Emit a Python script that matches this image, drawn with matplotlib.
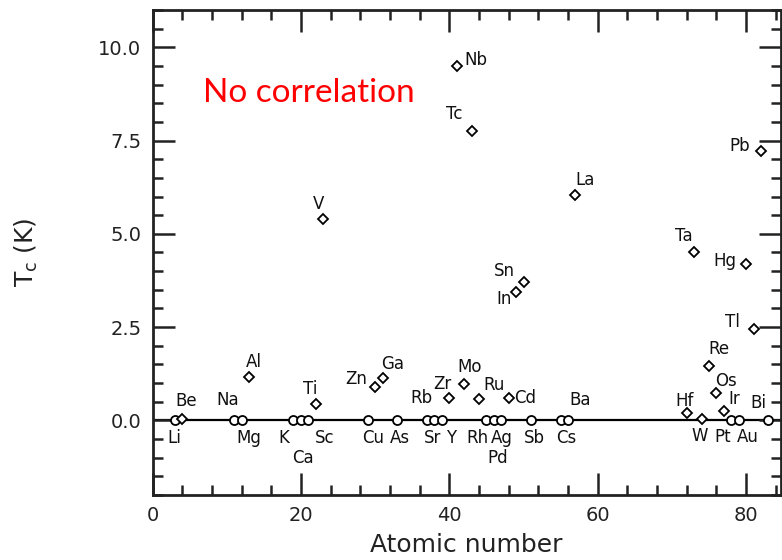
import matplotlib
matplotlib.use("Agg")
import matplotlib.pyplot as plt
from matplotlib.ticker import MultipleLocator, FixedLocator

# Superconducting elements (diamonds): symbol, atomic number, Tc (K)
sc_symbols = ["Be", "Al", "Ti", "V", "Zn", "Ga", "Zr", "Nb", "Mo", "Tc", "Ru", "Cd",
              "In", "Sn", "La", "Hf", "Ta", "W", "Re", "Os", "Ir", "Hg", "Tl", "Pb"]
sc_z = [4, 13, 22, 23, 30, 31, 40, 41, 42, 43, 44, 48,
        49, 50, 57, 72, 73, 74, 75, 76, 77, 80, 81, 82]
sc_tc = [0.03, 1.17, 0.45, 5.39, 0.9, 1.14, 0.6, 9.5, 0.98, 7.75, 0.56, 0.6,
         3.44, 3.7, 6.03, 0.2, 4.52, 0.05, 1.45, 0.73, 0.24, 4.19, 2.45, 7.22]

# Non-superconducting elements (circles on Tc = 0)
ns_symbols = ["Li", "Na", "Mg", "K", "Ca", "Sc", "Cu", "As", "Rb", "Sr", "Y",
              "Rh", "Pd", "Ag", "Sb", "Cs", "Ba", "Pt", "Au", "Bi"]
ns_z = [3, 11, 12, 19, 20, 21, 29, 33, 37, 38, 39,
        45, 46, 47, 51, 55, 56, 78, 79, 83]
ns_tc = [0] * len(ns_z)

x_ticks = [0, 20, 40, 60, 80]
y_ticks = [0.0, 2.5, 5.0, 7.5, 10.0]

# label offsets in pixels (dx, dy)
offsets = {
    "Li": (0, -18), "Be": (4, 18), "Na": (-6, 20), "Mg": (7, -18), "Al": (5, 15),
    "K": (-10, -18), "Ca": (2, -38), "Sc": (16, -18), "Ti": (-6, 15), "V": (-5, 15),
    "Cu": (5, -18), "Zn": (-19, 8), "Ga": (10, 14), "As": (3, -18), "Rb": (-6, 22),
    "Sr": (-2, -18), "Y": (9, -18), "Zr": (-7, 14), "Nb": (19, 6), "Mo": (5, 17),
    "Tc": (-17, 17), "Ru": (15, 14), "Rh": (-9, -18), "Pd": (4, -38), "Ag": (1, -18),
    "Cd": (16, 0), "In": (-12, -7), "Sn": (-19, 11), "Sb": (3, -18), "Cs": (6, -18),
    "Ba": (12, 20), "La": (10, 15), "Hf": (-2, 12), "Ta": (-10, 16), "W": (-2, -17),
    "Re": (10, 17), "Os": (10, 12), "Ir": (10, 12), "Pt": (-9, -17), "Au": (9, -17),
    "Hg": (-21, 3), "Tl": (-21, 7), "Pb": (-21, 5), "Bi": (-10, 17),
}

W, H = 782, 560
fig = plt.figure(figsize=(W / 100, H / 100), dpi=100)
ax = fig.add_axes([152.5 / W, 1 - 495 / H, (781 - 152.5) / W, (495 - 10) / H])
ax.set_xlim(0, 84.7)
ax.set_ylim(-2, 11)

ax.axhline(0, color="black", lw=1.6, zorder=1)
ax.plot(ns_z, ns_tc, linestyle="none", marker="o", ms=6.5, mfc="white",
        mec="black", mew=1.3, zorder=3)
ax.plot(sc_z, sc_tc, linestyle="none", marker="D", ms=5, mfc="white",
        mec="black", mew=1.3, zorder=4)

for s, z, t in list(zip(sc_symbols, sc_z, sc_tc)) + list(zip(ns_symbols, ns_z, ns_tc)):
    dx, dy = offsets[s]
    ax.annotate(s, (z, t), xytext=(dx, dy), textcoords="offset pixels",
                ha="center", va="center", fontsize=12, color="#111111")

ax.xaxis.set_major_locator(FixedLocator(x_ticks))
ax.xaxis.set_minor_locator(MultipleLocator(4))
ax.yaxis.set_major_locator(FixedLocator(y_ticks))
ax.yaxis.set_minor_locator(MultipleLocator(0.5))
ax.set_xticklabels([str(v) for v in x_ticks])
ax.set_yticklabels([f"{v:.1f}" for v in y_ticks])
ax.tick_params(which="both", direction="in", top=True, right=True, width=1.8,
               color="#222222")
ax.tick_params(which="major", length=16, labelsize=14, pad=8, labelcolor="#222222")
ax.tick_params(which="minor", length=7)
for sp in ax.spines.values():
    sp.set_linewidth(2)
    sp.set_color("#222222")

ax.set_xlabel("Atomic number", fontsize=18, labelpad=6, color="#222222")
ax.set_ylabel("T$_\\mathregular{c}$ (K)", fontsize=18, labelpad=42, color="#222222")

ax.text(0.081, 0.829, "No correlation", transform=ax.transAxes, color="#ff0000",
        fontsize=24, family="Lato", ha="left", va="center")

fig.savefig("out.png", dpi=100)
